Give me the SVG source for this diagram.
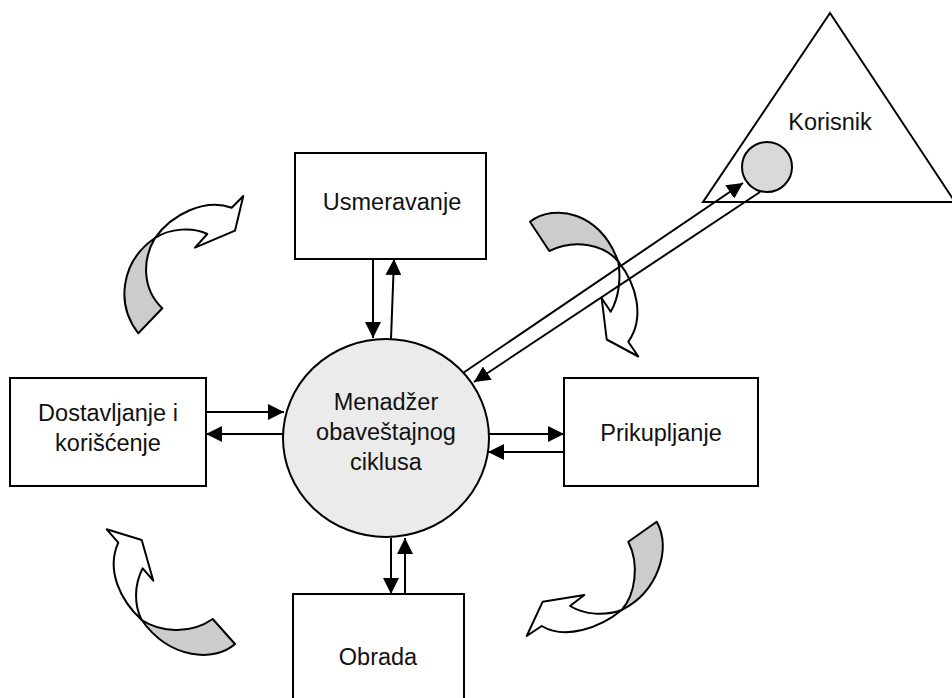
<svg xmlns="http://www.w3.org/2000/svg" width="952" height="698" viewBox="0 0 952 698">
<defs>
<style>
.box{fill:#fff;stroke:#000;stroke-width:2}
.lbl{font-family:"Liberation Sans",Arial,sans-serif;font-size:23.5px;fill:#111;text-anchor:middle}
.ln{stroke:#000;stroke-width:2;fill:none}
.gr{fill:#cccccc;stroke:#000;stroke-width:2;stroke-linejoin:round}
.wh{fill:#fff;stroke:#000;stroke-width:2;stroke-linejoin:round}
</style>
<marker id="a" viewBox="0 0 16 16" refX="16" refY="8" markerWidth="16" markerHeight="16" markerUnits="userSpaceOnUse" orient="auto">
<path d="M0,0 L16,8 L0,16 Z" fill="#000"/>
</marker>
</defs>
<rect width="952" height="698" fill="#fff"/>

<g id="cycle-arrows">
<g id="curve-top-left">
<path class="gr" d="M138.3,333.3 C116,305 120,262 155,238 C143,258 141,288 162.3,308.3 Z"/>
<path class="wh" d="M155,238 C172,214 205,198 231.7,207.7 L243.3,196 L235,230.7 L195,247.7 L207.3,234 C193,227 170,228 155,238 Z"/>
</g>
<g id="curve-top-right">
<path class="gr" d="M530,221.7 C555,203 600,212 618.3,261.7 C605,245 575,238 549.3,251 Z"/>
<path class="wh" d="M618.3,261.7 C637,285 645,318 628.3,341.7 L638.3,356.5 L606.7,339.5 L601.7,298.3 L610.7,311.7 C619,298 621,278 618.3,261.7 Z"/>
</g>
<g id="curve-bottom-right">
<path class="gr" d="M656.7,521.7 C672,548 658,592 621.7,610 C635,595 640,565 628.3,541.7 Z"/>
<path class="wh" d="M621.7,610 C600,628 565,640 541.7,626 L526.7,636 L542.7,601.7 L584.3,595 L570,606 C585,615 605,616 621.7,610 Z"/>
</g>
<g id="curve-bottom-left">
<path class="gr" d="M235,644 C215,662 170,660 141.7,620 C160,632 190,635 212.7,619 Z"/>
<path class="wh" d="M141.7,620 C120,600 106,570 118.3,542.7 L106.7,529.3 L141.7,540 L153.3,580.7 L142.7,568.3 C134,585 134,605 141.7,620 Z"/>
</g>
</g>

<g id="korisnik">
<polygon points="830,13 703,202 955,202" fill="#fff" stroke="#000" stroke-width="2"/>
<text class="lbl" x="830" y="130">Korisnik</text>
<circle cx="767" cy="167" r="25" fill="#d9d9d9" stroke="#000" stroke-width="2"/>
</g>

<g id="usmeravanje">
<rect class="box" x="295" y="153" width="191" height="106"/>
<text class="lbl" x="392" y="210">Usmeravanje</text>
</g>
<g id="dostavljanje">
<rect class="box" x="10" y="378" width="196" height="108"/>
<text class="lbl" x="108" y="421">Dostavljanje i</text>
<text class="lbl" x="108" y="451">korišćenje</text>
</g>
<g id="prikupljanje">
<rect class="box" x="564" y="378" width="194" height="108"/>
<text class="lbl" x="661" y="441">Prikupljanje</text>
</g>
<g id="obrada">
<rect class="box" x="293" y="594" width="171" height="110"/>
<text class="lbl" x="378" y="665">Obrada</text>
</g>

<g id="menadzer">
<ellipse cx="386" cy="438" rx="103" ry="99" fill="#ebebeb" stroke="#000" stroke-width="2"/>
<text class="lbl" x="386" y="410">Menadžer</text>
<text class="lbl" x="386" y="440">obaveštajnog</text>
<text class="lbl" x="386" y="470">ciklusa</text>
</g>

<g id="connectors">
<line class="ln" x1="373" y1="259" x2="373" y2="338" marker-end="url(#a)"/>
<line class="ln" x1="391" y1="339" x2="394" y2="259" marker-end="url(#a)"/>
<line class="ln" x1="206" y1="412" x2="284" y2="412" marker-end="url(#a)"/>
<line class="ln" x1="283" y1="434" x2="206" y2="434" marker-end="url(#a)"/>
<line class="ln" x1="489" y1="434" x2="564" y2="434" marker-end="url(#a)"/>
<line class="ln" x1="564" y1="452" x2="488" y2="452" marker-end="url(#a)"/>
<line class="ln" x1="391" y1="538" x2="391" y2="594" marker-end="url(#a)"/>
<line class="ln" x1="405" y1="594" x2="405" y2="538" marker-end="url(#a)"/>
<line class="ln" x1="463" y1="373" x2="743" y2="183" marker-end="url(#a)"/>
<line class="ln" x1="760" y1="192" x2="474" y2="382" marker-end="url(#a)"/>
</g>
</svg>
